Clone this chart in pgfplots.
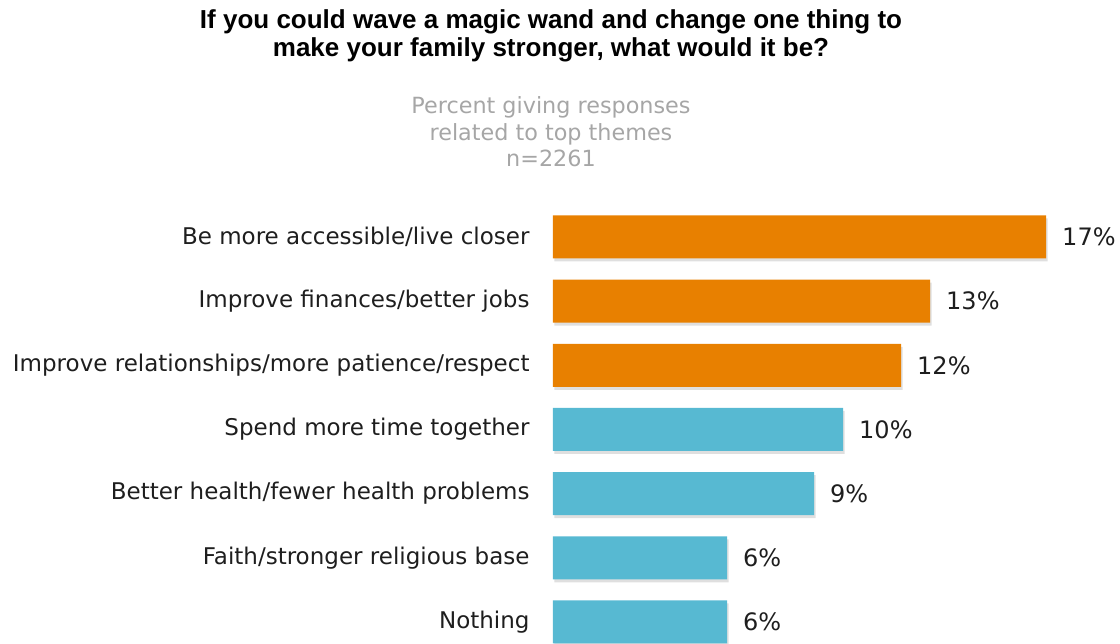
\documentclass[border=0pt]{standalone}
\usepackage{pgfplots}
\pgfplotsset{compat=1.18}
\usepackage{fontspec}
\setmainfont{DejaVu Sans}
\newfontfamily\titlefont{Liberation Sans}
\usetikzlibrary{shadows}
\definecolor{orangebar}{HTML}{E88000}
\definecolor{bluebar}{HTML}{57B9D2}
\definecolor{subgray}{HTML}{A6A6A6}
\definecolor{labelcol}{HTML}{1E1E1E}
\begin{document}
\begin{tikzpicture}[x=1pt,y=1pt]
\path[use as bounding box] (0,0) rectangle (1120,644);
\node[font=\titlefont\bfseries\fontsize{26}{28}\selectfont, align=center, text=black] at (551,608) {If you could wave a magic wand and change one thing to\\make your family stronger, what would it be?};
\node[font=\fontsize{22.3}{26.5}\selectfont, align=center, text=subgray] at (551,512) {Percent giving responses\\related to top themes\\n=2261};
\begin{axis}[
  at={(553pt,0pt)}, anchor=south west, scale only axis,
  width=567pt, height=454pt,
  xbar, bar width=43pt, bar shift=0pt,
  xmin=0, xmax=19.55, ymin=-0.343, ymax=6.732,
  axis line style={draw=none}, tick style={draw=none},
  xtick=\empty,
  ytick={0,1,2,3,4,5,6},
  yticklabels={Nothing, Faith/stronger religious base, Better health/fewer health problems, Spend more time together, Improve relationships/more patience/respect, Improve finances/better jobs, Be more accessible/live closer},
  yticklabel style={font=\fontsize{23}{26}\selectfont, text=labelcol, anchor=east, inner sep=0pt, xshift=-19pt},
  /pgf/number format/assume math mode=true,
  nodes near coords={\pgfmathprintnumber{\pgfplotspointmeta}\%},
  every node near coord/.append style={font=\fontsize{24}{26}\selectfont, text=labelcol, anchor=west, inner sep=0pt, xshift=16pt},
  clip=false,
]
\addplot[fill=orangebar, draw=none, drop shadow={shadow xshift=1.5pt, shadow yshift=-3pt, opacity=0.25}] coordinates {(17,6) (13,5) (12,4)};
\addplot[fill=bluebar, draw=none, drop shadow={shadow xshift=1.5pt, shadow yshift=-3pt, opacity=0.25}] coordinates {(10,3) (9,2) (6,1) (6,0)};
\end{axis}
\end{tikzpicture}
\end{document}
